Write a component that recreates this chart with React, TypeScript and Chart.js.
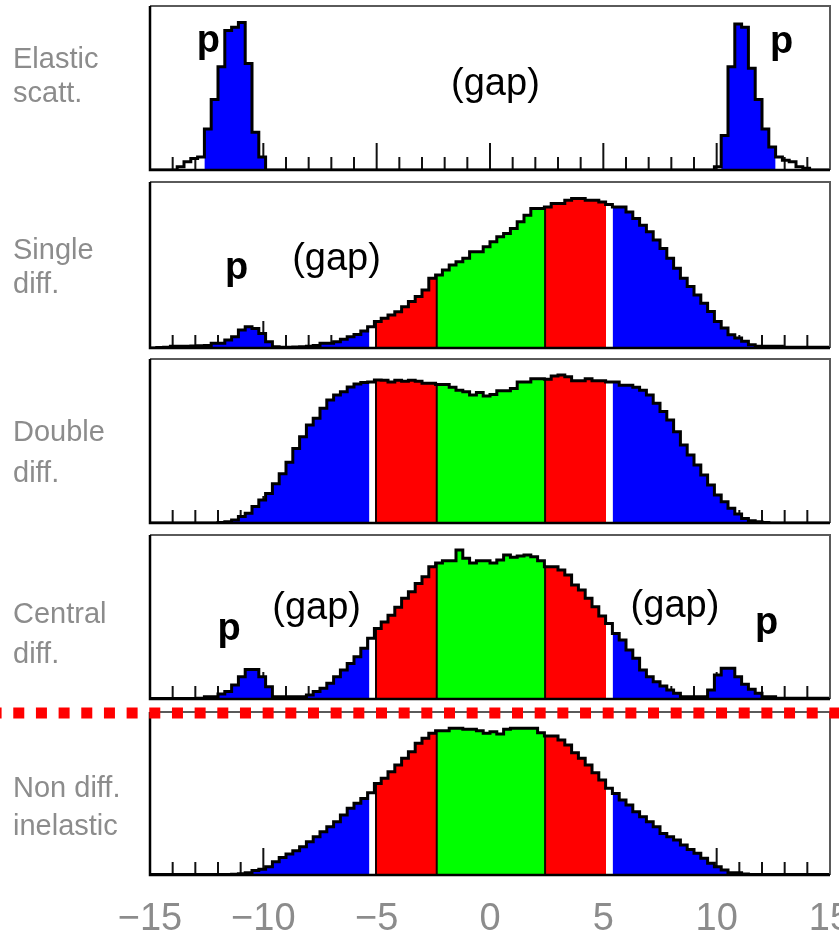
import React, { useEffect, useRef } from "react";
import { Chart, registerables } from "chart.js";
Chart.register(...registerables);

// ---------- data ----------
const X_MIN = -15;
const X_MAX = 15;
const BIN_WIDTH = 0.3;

const elasticScatt = [
  0, 0, 0, 0, 2, 5, 7, 8, 25, 43,
  63, 85, 87, 90, 65, 23, 8, 0, 0, 0,
  0, 0, 0, 0, 0, 0, 0, 0, 0, 0,
  0, 0, 0, 0, 0, 0, 0, 0, 0, 0,
  0, 0, 0, 0, 0, 0, 0, 0, 0, 0,
  0, 0, 0, 0, 0, 0, 0, 0, 0, 0,
  0, 0, 0, 0, 0, 0, 0, 0, 0, 0,
  0, 0, 0, 0, 0, 0, 0, 0, 0, 0,
  0, 0, 0, 2, 21, 63, 89, 87, 62, 43,
  25, 14, 8, 6, 5, 2, 1, 0, 0, 0,
];

const singleDiff = [
  0, 0.3, 0.5, 1, 1, 1, 1.2, 1.4, 1.5, 2.8,
  2.8, 4.8, 6.8, 10.8, 12.8, 11.8, 8.8, 3.8, 0.8, 0.5,
  0.5, 0.6, 0.8, 1, 1.5, 2.8, 2.8, 3.8, 5.2, 6.8,
  8.2, 10.2, 12.8, 15.9, 17.9, 19.9, 21.9, 24.9, 28, 31,
  35, 42, 44, 47, 50, 52, 54, 58, 58, 61,
  64, 67, 69, 72, 76, 80, 84, 84, 85, 87,
  87, 89, 90, 90, 89, 89, 88, 86.5, 85, 85,
  82, 78, 74, 70, 65, 60, 54, 48, 42, 37,
  32, 27, 22, 16, 12, 8, 6, 4, 2, 1,
  1, 1, 1, 0.5, 0.5, 0.5, 0.5, 0.5, 0.5, 0.5,
];

const doubleDiff = [
  0, 0, 0, 0, 0, 0, 0, 0, 0, 0,
  0.3, 0.8, 1.8, 3.9, 5.9, 10, 14, 18, 24, 30,
  37, 45.5, 52.6, 59.8, 63.8, 70, 75, 78, 80, 83,
  84.8, 85.6, 86, 87.2, 87, 86, 87, 86.5, 87, 86.5,
  85.2, 85.2, 84.5, 84.5, 82.7, 81, 80, 78, 79.5, 77.4,
  78.4, 80.7, 80.7, 82, 86, 86, 88, 88, 87.6, 89.6,
  90.2, 89.2, 86.8, 86.8, 88, 86.8, 86.8, 86, 86, 84,
  84, 82.7, 81, 78, 73, 68, 62.8, 55.7, 47.6, 41.5,
  35.4, 29.3, 23.2, 17, 13, 9, 5.5, 2.8, 1.4, 0.8,
  0.3, 0, 0, 0, 0, 0, 0, 0, 0, 0,
];

const centralDiff = [
  0.3, 0.3, 0.3, 0.3, 0.3, 0.3, 0.3, 0.5, 1.4, 1.4,
  3, 4.5, 8.5, 13.6, 18, 18, 13.6, 7.5, 1.4, 1.4,
  1.4, 1.4, 1.4, 2.4, 4.5, 6.5, 9.6, 13.6, 17.7, 21.7,
  25.8, 30.9, 37, 43, 47, 51, 56, 61.4, 65.4, 70.5,
  74.6, 80.7, 83, 84.3, 84.3, 90.9, 85.8, 83, 84.3, 84.3,
  83, 84.8, 87.8, 86.4, 87.2, 87.8, 86.8, 84.3, 80.7, 80.7,
  78.7, 75.6, 69.5, 66.5, 61.4, 56.3, 50.6, 46.1, 40, 36,
  29.9, 24.8, 17.7, 13.6, 10.5, 7.9, 5.5, 3.5, 1.4, 1.4,
  1.4, 1.4, 5.5, 14.6, 18.7, 18.7, 13.6, 9, 5.9, 3.5,
  1.4, 1.4, 0.4, 0.4, 0.4, 0.4, 0.4, 0.4, 0.4, 0.4,
];

const nonDiffInelastic = [
  0.3, 0.3, 0.3, 0.3, 0.3, 0.3, 0.3, 0.3, 0.3, 0.3,
  0.3, 0.3, 0.5, 0.8, 1.4, 2.7, 3.5, 5, 8.2, 10.8,
  12.9, 14.9, 17.4, 20.4, 23.5, 26.6, 29.6, 32.7, 36.8, 40.9,
  44, 47, 50.4, 56.2, 59.3, 63.4, 67.5, 71.6, 75.6, 80.8,
  83.9, 86.9, 88.5, 88.5, 90, 90, 89.4, 89.4, 88.5, 86.9,
  87.9, 86.5, 89.4, 90, 90, 90, 90, 87.3, 85.3, 85.3,
  82.8, 79.8, 75, 71.6, 67.5, 62.7, 58.3, 53.2, 50, 46,
  42.9, 38.8, 35.8, 32.7, 29.6, 25.5, 23.5, 21.5, 18.4, 15.7,
  13.3, 10.2, 7.2, 5, 3, 1.4, 1.4, 0.6, 0.3, 0.3,
  0.3, 0.3, 0.3, 0.3, 0.3, 0.3, 0.3, 0.3, 0.3, 0.3,
];

const panelLabels = [
  ["Elastic", "scatt."],
  ["Single", "diff."],
  ["Double", "diff."],
  ["Central", "diff."],
  ["Non diff.", "inelastic"],
];

// region boundaries (in x units)
const GREEN_RANGES = [[-2.35, 2.43]];
const RED_RANGES = [[-5.03, -2.35], [2.43, 5.12]];
const BLUE_RANGES = [[-12.6, -5.32], [5.41, 12.6]];
const ELASTIC_BLUE_RANGES = [[-12.6, -9.9], [10.2, 12.6]];
const DARK_EDGES = [-5.03, -2.35, 2.43];

// annotations: text, x (axis units), y (percent of panel height)
const elasticNotes = [
  { t: "p", x: -12.42, y: 72, bold: true },
  { t: "p", x: 12.86, y: 71.3, bold: true },
  { t: "(gap)", x: 0.24, y: 45.7, bold: false },
];
const singleNotes = [
  { t: "p", x: -11.18, y: 41.6, bold: true },
  { t: "(gap)", x: -6.77, y: 47, bold: false },
];
const centralNotes = [
  { t: "p", x: -11.51, y: 36, bold: true },
  { t: "(gap)", x: -7.65, y: 48.8, bold: false },
  { t: "(gap)", x: 8.16, y: 50, bold: false },
  { t: "p", x: 12.2, y: 39.6, bold: true },
];

// ---------- layout ----------
const W = 839;
const H = 941;
const PLOT_LEFT = 150;
const PLOT_RIGHT = 830;
const PANEL_TOPS = [6, 182, 359, 535, 712];
const PANEL_BOTTOMS = [170, 348, 523, 699, 875];
const LABEL_LAYOUT = [
  { top: 41, lh: 34 },
  { top: 232, lh: 34 },
  { top: 411, lh: 41 },
  { top: 593, lh: 40 },
  { top: 768, lh: 38 },
];
const FONT = "'Liberation Sans', Arial, sans-serif";
const BLUE = "#0000ff";
const RED = "#ff0000";
const GREEN = "#00ff00";

const NBINS = Math.round((X_MAX - X_MIN) / BIN_WIDTH);

function binIndex(x: number) {
  return Math.min(NBINS - 1, Math.max(0, Math.floor((x - X_MIN) / BIN_WIDTH + 1e-9)));
}

function outlinePoints(arr: number[]) {
  const pts = arr.map((v, k) => ({ x: X_MIN + k * BIN_WIDTH, y: v }));
  pts.push({ x: X_MAX, y: arr[arr.length - 1] });
  return pts;
}

function regionPoints(arr: number[], a: number, b: number) {
  const pts = [
    { x: a, y: 0 },
    { x: a, y: arr[binIndex(a)] },
  ];
  let k = binIndex(a) + 1;
  while (X_MIN + k * BIN_WIDTH < b - 1e-6) {
    pts.push({ x: X_MIN + k * BIN_WIDTH, y: arr[k] });
    k++;
  }
  const last = arr[binIndex(b - 1e-6)];
  pts.push({ x: b, y: last });
  pts.push({ x: b, y: 0 });
  return pts;
}

const decoPlugin = {
  id: "deco",
  beforeDatasetsDraw(chart: any) {
    const { ctx, chartArea: ca, scales } = chart;
    const xs = scales.x;
    ctx.save();
    ctx.strokeStyle = "#111";
    ctx.lineWidth = 2;
    for (let v = X_MIN; v <= X_MAX; v++) {
      const px = xs.getPixelForValue(v);
      const len = v % 5 === 0 ? 27 : 13;
      ctx.beginPath();
      ctx.moveTo(px, ca.bottom);
      ctx.lineTo(px, ca.bottom - len);
      ctx.stroke();
    }
    ctx.restore();
  },
  afterDatasetsDraw(chart: any, _args: any, opts: any) {
    const { ctx, chartArea: ca, scales } = chart;
    ctx.save();
    // frame
    ctx.strokeStyle = "#5a5a5a";
    ctx.lineWidth = 2;
    ctx.beginPath();
    ctx.moveTo(ca.left, ca.top);
    ctx.lineTo(ca.right, ca.top);
    ctx.lineTo(ca.right, ca.bottom);
    ctx.stroke();
    ctx.strokeStyle = "#000";
    ctx.lineWidth = 2.5;
    ctx.beginPath();
    ctx.moveTo(ca.left, ca.top);
    ctx.lineTo(ca.left, ca.bottom);
    ctx.lineTo(ca.right, ca.bottom);
    ctx.stroke();
    // annotations
    const notes = (opts && opts.notes) || [];
    ctx.fillStyle = "#000";
    ctx.textAlign = "center";
    ctx.textBaseline = "alphabetic";
    notes.forEach((n: any) => {
      ctx.font = (n.bold ? "bold " : "") + "38px " + FONT;
      ctx.fillText(n.t, scales.x.getPixelForValue(n.x), scales.y.getPixelForValue(n.y));
    });
    // dotted separator
    if (opts && opts.dotted) {
      ctx.strokeStyle = "#ff0000";
      ctx.lineWidth = 11;
      ctx.setLineDash([11, 11.67]);
      ctx.lineDashOffset = 9.4;
      ctx.beginPath();
      ctx.moveTo(0, ca.top + 1);
      ctx.lineTo(chart.width, ca.top + 1);
      ctx.stroke();
    }
    ctx.restore();
  },
};

type PanelDef = {
  values: number[];
  regions: { range: number[]; color: string }[];
  edges: number[];
  notes: any[];
};

function regionsFor(blue: number[][], withCentral: boolean) {
  const r: { range: number[]; color: string }[] = [];
  blue.forEach((b) => r.push({ range: b, color: BLUE }));
  if (withCentral) {
    RED_RANGES.forEach((b) => r.push({ range: b, color: RED }));
    GREEN_RANGES.forEach((b) => r.push({ range: b, color: GREEN }));
  }
  return r;
}

const PANELS: PanelDef[] = [
  { values: elasticScatt, regions: regionsFor(ELASTIC_BLUE_RANGES, false), edges: [], notes: elasticNotes },
  { values: singleDiff, regions: regionsFor(BLUE_RANGES, true), edges: DARK_EDGES, notes: singleNotes },
  { values: doubleDiff, regions: regionsFor(BLUE_RANGES, true), edges: DARK_EDGES, notes: [] },
  { values: centralDiff, regions: regionsFor(BLUE_RANGES, true), edges: DARK_EDGES, notes: centralNotes },
  { values: nonDiffInelastic, regions: regionsFor(BLUE_RANGES, true), edges: DARK_EDGES, notes: [] },
];

function Panel({ index }: { index: number }) {
  const ref = useRef<HTMLCanvasElement>(null);
  const isBottom = index === PANELS.length - 1;
  const top = PANEL_TOPS[index];
  const bottom = PANEL_BOTTOMS[index];
  const padTop = isBottom ? 12 : 4;
  const canvasTop = top - padTop;
  const canvasHeight = isBottom ? 265 : bottom - top + 8;

  useEffect(() => {
    const p = PANELS[index];
    const datasets: any[] = [];
    datasets.push({
      data: outlinePoints(p.values),
      borderColor: "#000",
      borderWidth: 3,
      stepped: true,
      fill: false,
      pointRadius: 0,
      order: 0,
    });
    p.edges.forEach((b) => {
      datasets.push({
        data: [
          { x: b, y: 0 },
          { x: b, y: p.values[binIndex(b)] },
        ],
        borderColor: "#1a0000",
        borderWidth: 2,
        fill: false,
        pointRadius: 0,
        order: 1,
      });
    });
    p.regions.forEach((r) => {
      datasets.push({
        data: regionPoints(p.values, r.range[0], r.range[1]),
        backgroundColor: r.color,
        borderColor: "rgba(0,0,0,0)",
        borderWidth: 0,
        stepped: true,
        fill: "origin",
        pointRadius: 0,
        order: 2,
      });
    });

    const chart = new Chart(ref.current as HTMLCanvasElement, {
      type: "line",
      data: { datasets },
      plugins: [decoPlugin],
      options: {
        animation: false,
        responsive: false,
        events: [],
        layout: {
          autoPadding: false,
          padding: { left: PLOT_LEFT, right: W - PLOT_RIGHT, top: padTop, bottom: isBottom ? 0 : 4 },
        },
        plugins: {
          legend: { display: false },
          tooltip: { enabled: false },
          deco: { notes: p.notes, dotted: isBottom },
        } as any,
        scales: {
          x: {
            type: "linear",
            min: X_MIN,
            max: X_MAX,
            display: isBottom,
            grid: { display: false, drawTicks: false },
            border: { display: false },
            afterFit: (scale: any) => {
              scale.paddingLeft = 0;
              scale.paddingRight = 0;
            },
            ticks: {
              stepSize: 5,
              autoSkip: false,
              maxRotation: 0,
              padding: 26,
              color: "#8c8c8c",
              font: { family: FONT, size: 38, lineHeight: 1 },
              callback: (v: any) => (Number(v) < 0 ? "\u2212" + Math.abs(Number(v)) : String(v)),
            },
          },
          y: { type: "linear", min: 0, max: 100, display: false },
        },
      } as any,
    });
    return () => chart.destroy();
  }, [index]);

  return (
    <canvas
      ref={ref}
      width={W}
      height={canvasHeight}
      style={{ position: "absolute", left: 0, top: canvasTop, width: W, height: canvasHeight }}
    />
  );
}

export default function App() {
  return (
    <div
      style={{
        position: "absolute",
        left: 0,
        top: 0,
        width: W,
        height: H,
        overflow: "hidden",
        background: "#fff",
      }}
    >
      {PANELS.map((_, i) => (
        <Panel key={i} index={i} />
      ))}
      {panelLabels.map((lines, i) => (
        <div
          key={"l" + i}
          style={{
            position: "absolute",
            left: 13,
            top: LABEL_LAYOUT[i].top,
            fontFamily: FONT,
            fontSize: 29,
            lineHeight: LABEL_LAYOUT[i].lh + "px",
            color: "#8c8c8c",
            whiteSpace: "nowrap",
          }}
        >
          {lines.map((s, j) => (
            <div key={j}>{s}</div>
          ))}
        </div>
      ))}
    </div>
  );
}
